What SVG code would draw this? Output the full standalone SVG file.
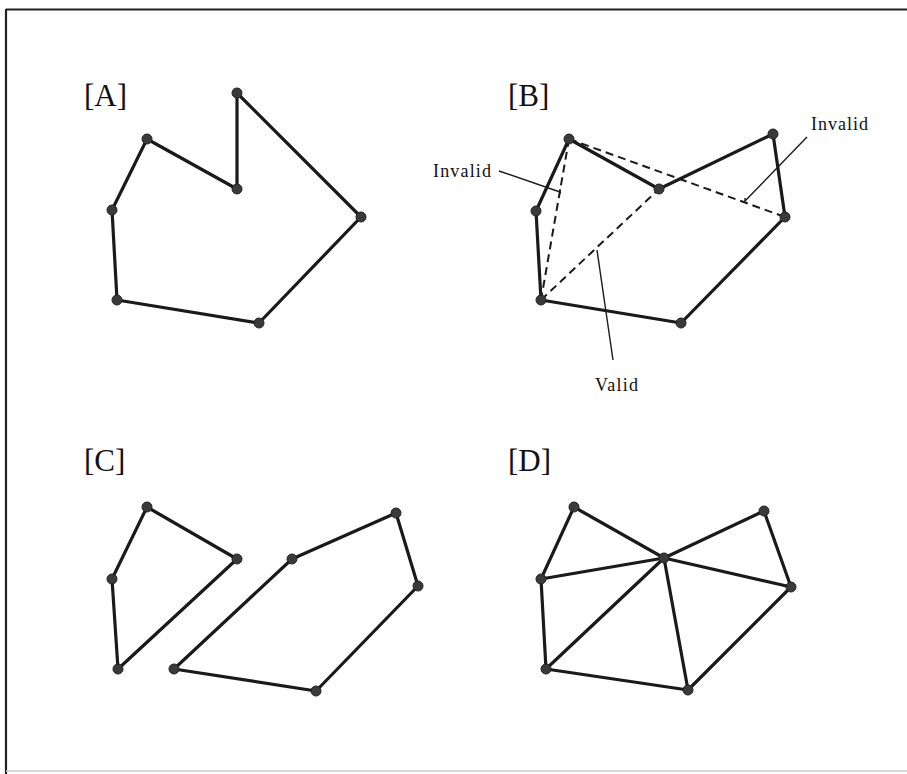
<svg xmlns="http://www.w3.org/2000/svg" width="907" height="774" viewBox="0 0 907 774">
<style>
.e{fill:none;stroke:#1a1a1a;stroke-width:3.2;stroke-linejoin:round;stroke-linecap:round}
.d{fill:none;stroke:#1a1a1a;stroke-width:2;stroke-dasharray:8 5}
.l{fill:none;stroke:#1a1a1a;stroke-width:1.4}
.v{fill:#3a3a3a;stroke:#222;stroke-width:1}
.t{font-family:"Liberation Serif","Times New Roman",serif;fill:#111}
.big{font-size:31px}
.sm{font-size:18px}
</style>
<rect x="0" y="0" width="907" height="774" fill="#fff"/>
<g id="frame">
<line x1="6" y1="9.5" x2="907" y2="9.5" stroke="#222" stroke-width="2.2"/>
<line x1="6" y1="9" x2="6" y2="774" stroke="#222" stroke-width="2.2"/>
<line x1="6" y1="771" x2="907" y2="771" stroke="#ccc" stroke-width="1.5"/>
</g>
<g id="labels">
<text class="t big" x="84" y="106">[A]</text>
<text class="t big" x="508" y="106">[B]</text>
<text class="t big" x="84" y="471">[C]</text>
<text class="t big" x="508" y="471">[D]</text>
</g>
<g id="connectors">
<polygon class="e" points="237,93 237,189 147,139 112,210 117,300 259,323 361,217"/>
<polygon class="e" points="569,139 659,189 773,134 785,217 681,323 541,300 536,211"/>
<line class="d" x1="569" y1="139" x2="541" y2="300"/>
<line class="d" x1="569" y1="139" x2="785" y2="217"/>
<line class="d" x1="541" y1="300" x2="659" y2="189"/>
<polyline class="l" points="499,171 560,192"/>
<line class="l" x1="560" y1="189" x2="560" y2="194"/>
<polyline class="l" points="807,137 745,201"/>
<line class="l" x1="745" y1="198" x2="745" y2="203"/>
<polyline class="l" points="613,360 597,250"/>
<polygon class="e" points="147,507 237,559 118,669 112,579"/>
<polygon class="e" points="292,559 396,513 418,586 316,691 174,669"/>
<polygon class="e" points="574,507 664,558 764,511 791,587 688,690 546,669 541,579"/>
<line class="e" x1="664" y1="558" x2="541" y2="579"/>
<line class="e" x1="664" y1="558" x2="546" y2="669"/>
<line class="e" x1="664" y1="558" x2="688" y2="690"/>
<line class="e" x1="664" y1="558" x2="791" y2="587"/>
</g>
<g id="text-B">
<text class="t sm" x="433" y="177" textLength="58">Invalid</text>
<text class="t sm" x="811" y="130" textLength="57">Invalid</text>
<text class="t sm" x="595" y="391" textLength="43">Valid</text>
</g>
<g id="nodes-A">
<circle class="v" cx="237" cy="93" r="5"/><circle class="v" cx="237" cy="189" r="5"/><circle class="v" cx="147" cy="139" r="5"/><circle class="v" cx="112" cy="210" r="5"/><circle class="v" cx="117" cy="300" r="5"/><circle class="v" cx="259" cy="323" r="5"/><circle class="v" cx="361" cy="217" r="5"/>
</g>
<g id="nodes-B">
<circle class="v" cx="569" cy="139" r="5"/><circle class="v" cx="659" cy="189" r="5"/><circle class="v" cx="773" cy="134" r="5"/><circle class="v" cx="785" cy="217" r="5"/><circle class="v" cx="681" cy="323" r="5"/><circle class="v" cx="541" cy="300" r="5"/><circle class="v" cx="536" cy="211" r="5"/>
</g>
<g id="nodes-C">
<circle class="v" cx="147" cy="507" r="5"/><circle class="v" cx="237" cy="559" r="5"/><circle class="v" cx="118" cy="669" r="5"/><circle class="v" cx="112" cy="579" r="5"/>
<circle class="v" cx="292" cy="559" r="5"/><circle class="v" cx="396" cy="513" r="5"/><circle class="v" cx="418" cy="586" r="5"/><circle class="v" cx="316" cy="691" r="5"/><circle class="v" cx="174" cy="669" r="5"/>
</g>
<g id="nodes-D">
<circle class="v" cx="574" cy="507" r="5"/><circle class="v" cx="664" cy="558" r="5"/><circle class="v" cx="764" cy="511" r="5"/><circle class="v" cx="791" cy="587" r="5"/><circle class="v" cx="688" cy="690" r="5"/><circle class="v" cx="546" cy="669" r="5"/><circle class="v" cx="541" cy="579" r="5"/>
</g>
</svg>
